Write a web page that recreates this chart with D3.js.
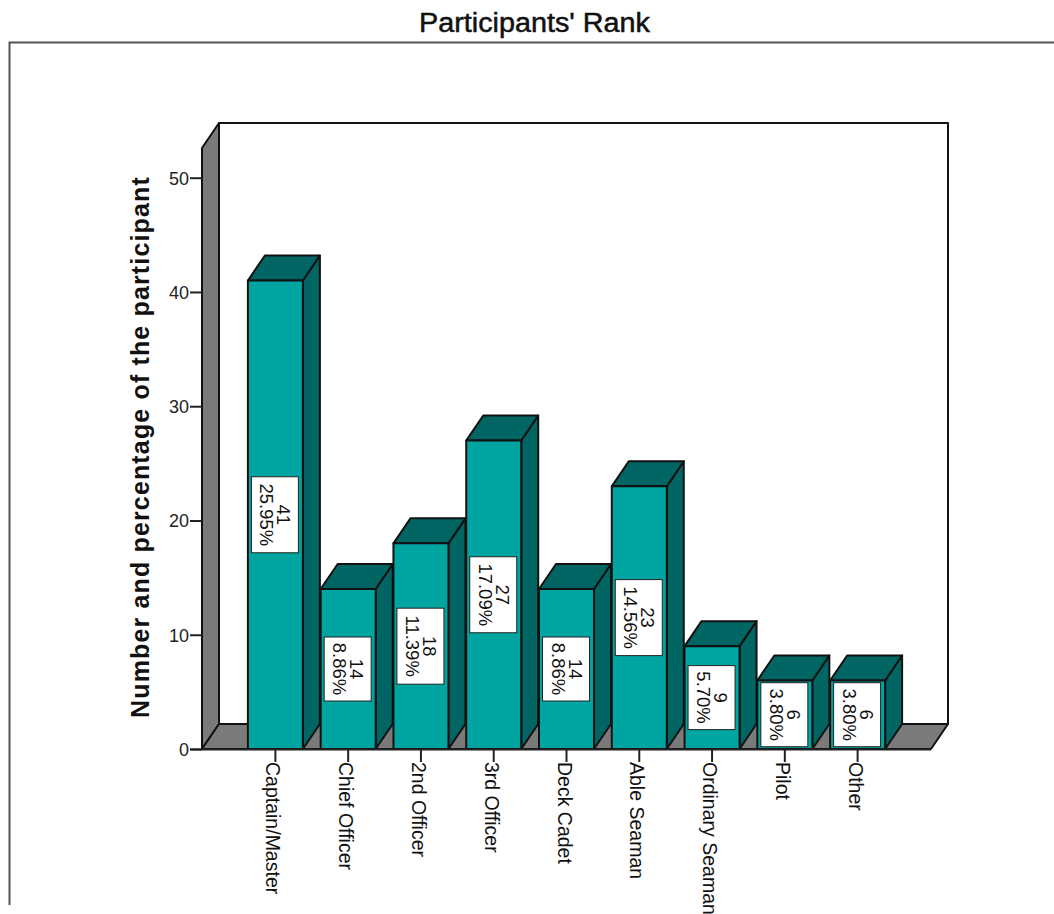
<!DOCTYPE html>
<html><head><meta charset="utf-8"><script src="https://cdn.jsdelivr.net/npm/d3@7"></script>
<style>html,body{margin:0;background:#fff}svg{display:block}text{font-family:"Liberation Sans",Arial,sans-serif;fill:#111}</style></head><body><div id="c"></div>
<script>
const categories=["Captain/Master","Chief Officer","2nd Officer","3rd Officer","Deck Cadet","Able Seaman","Ordinary Seaman","Pilot","Other"];
const counts=[41,14,18,27,14,23,9,6,6];
const percents=["25.95%","8.86%","11.39%","17.09%","8.86%","14.56%","5.70%","3.80%","3.80%"];
const yTicks=[0,10,20,30,40,50];
const W=1054,H=914,dx=17,dy=-25,barW=55;
const svg=d3.select("#c").append("svg").attr("width",W).attr("height",H);
const y=d3.scaleLinear().domain([0,52.6]).range([749,148]);
const x=d3.scaleBand().domain(categories).range([239,894]).paddingInner(0).paddingOuter(0);
const cx=c=>x(c)+x.bandwidth()/2;
const line=d=>"M"+d.map(p=>p.join(",")).join("L")+"Z";
// frame
svg.append("path").attr("d","M9.5,905V42.5H1054").attr("fill","none").attr("stroke","#555").attr("stroke-width",2);
svg.append("text").attr("x",534.5).attr("y",32).attr("text-anchor","middle").attr("font-size",27).attr("textLength",231).attr("lengthAdjust","spacingAndGlyphs").attr("stroke","#111").attr("stroke-width",.5).text("Participants' Rank");
const x0=202,x1=931,y0=y(0),yT=y.range()[1];
const sty=s=>s.attr("stroke","#111").attr("stroke-width",2).attr("stroke-linejoin","round");
// back wall, left wall, floor
sty(svg.append("path").attr("d",line([[x0+dx,yT+dy],[x1+dx,yT+dy],[x1+dx,y0+dy],[x0+dx,y0+dy]])).attr("fill","#fff"));
sty(svg.append("path").attr("d",line([[x0,yT],[x0+dx,yT+dy],[x0+dx,y0+dy],[x0,y0]])).attr("fill","#7a7a7a"));
sty(svg.append("path").attr("d",line([[x0,y0],[x0+dx,y0+dy],[x1+dx,y0+dy],[x1,y0]])).attr("fill","#7a7a7a"));
// y axis
const ya=svg.append("g").attr("transform",`translate(${x0},0)`).call(d3.axisLeft(y).tickValues(yTicks).tickSize(12).tickPadding(1));
ya.select(".domain").remove();
ya.selectAll("line").attr("stroke","#222").attr("stroke-width",2);
ya.selectAll("text").attr("font-size",19).attr("dy","0.34em").attr("textLength",20).attr("lengthAdjust","spacingAndGlyphs").style("fill","#222");
ya.selectAll("text").filter(d=>d===0).attr("textLength",10);
svg.append("text").attr("transform","translate(149,447) rotate(-90)").attr("text-anchor","middle").attr("font-size",25).attr("font-weight","bold").attr("letter-spacing",1.15).text("Number and percentage of the participant");
// bars
const g=svg.append("g").selectAll("g").data(categories).join("g");
g.each(function(c,i){
  const s=d3.select(this),l=cx(c)-barW/2,r=l+barW,t=y(counts[i]);
  sty(s.append("path").attr("d",line([[r,t],[r+dx,t+dy],[r+dx,y0+dy],[r,y0]])).attr("fill","#006563"));
  sty(s.append("path").attr("d",line([[l,t],[l+dx,t+dy],[r+dx,t+dy],[r,t]])).attr("fill","#006563"));
  sty(s.append("rect").attr("x",l).attr("y",t).attr("width",barW).attr("height",y0-t).attr("fill","#00A5A2"));
  const h=percents[i].length>5?76:64,my=y(counts[i]/2);
  s.append("rect").attr("x",l+3.5).attr("y",my-h/2).attr("width",barW-8).attr("height",h).attr("fill","#fff").attr("stroke","#222").attr("stroke-width",1);
  const lb=s.append("g").attr("transform",`translate(${l+barW/2-2},${my}) rotate(90)`);
  lb.append("text").attr("text-anchor","middle").attr("y",-4).attr("font-size",18.5).text(counts[i]);
  lb.append("text").attr("text-anchor","middle").attr("y",13).attr("font-size",18.5).text(percents[i]);
});
// x axis
const xa=svg.append("g").attr("transform",`translate(0,${y0})`).call(d3.axisBottom(x).tickSize(13).tickPadding(0));
xa.select(".domain").attr("d",`M${x0-12},0.5H${x1}`).attr("stroke","#222").attr("stroke-width",2);
xa.selectAll("line").attr("stroke","#222").attr("stroke-width",2);
xa.selectAll("text").attr("font-size",19.5).attr("text-anchor","start").attr("transform","rotate(90)").attr("x",13).attr("y",9).attr("dy",0).style("fill","#111");
</script></body></html>
